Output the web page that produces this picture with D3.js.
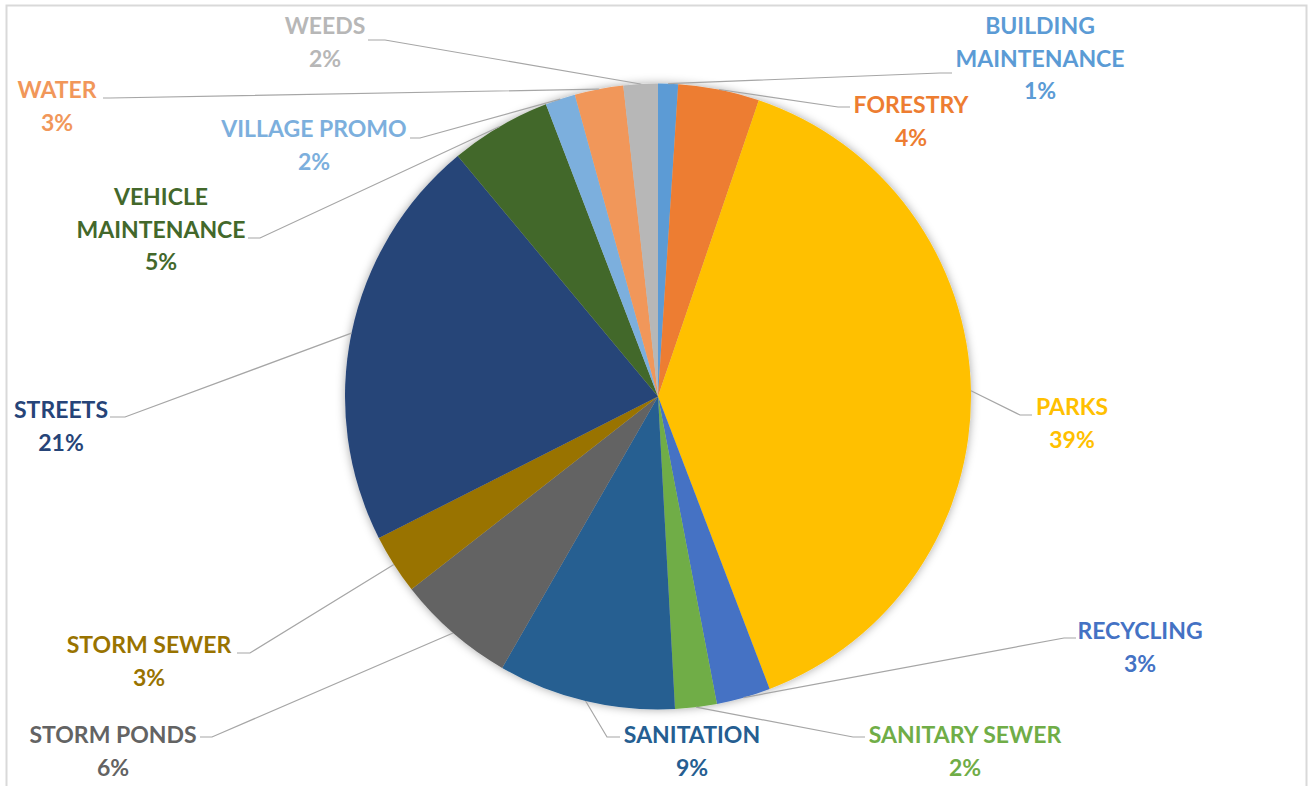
<!DOCTYPE html>
<html>
<head>
<meta charset="utf-8">
<script src="https://cdn.jsdelivr.net/npm/d3@7"></script>
<style>
  html, body { margin: 0; padding: 0; background: #fff; }
  svg { display: block; }
  .lbl { font-family: Lato, "Open Sans", sans-serif; font-weight: 700; font-size: 23px; }
</style>
</head>
<body>
<svg id="chart" width="1310" height="786"></svg>
<script>
// slices, clockwise from 12 o'clock
var categories = ['BUILDING MAINTENANCE', 'FORESTRY', 'PARKS', 'RECYCLING', 'SANITARY SEWER',
  'SANITATION', 'STORM PONDS', 'STORM SEWER', 'STREETS', 'VEHICLE MAINTENANCE',
  'VILLAGE PROMO', 'WATER', 'WEEDS']
var shares = [1.03, 4.19, 38.98, 2.79, 2.15, 9.16, 6.14, 3.10, 21.42, 5.22, 1.55, 2.51, 1.77]
var colors = ['#5B9BD5', '#ED7D31', '#FFC000', '#4472C4', '#70AD47', '#255E91', '#636363',
  '#997300', '#264478', '#43682B', '#7CAFDD', '#F1975A', '#B7B7B7']

// label placement (text centre, first baseline, leader start and elbow)
var labelLayout = [
  { x: 1040, y: 34, wrap: true, ax: 952, ay: 73, ex: 940 },
  { x: 911, y: 113, ax: 850, ay: 107, ex: 838 },
  { x: 1072, y: 415, ax: 1032, ay: 415, ex: 1020 },
  { x: 1140, y: 639, ax: 1076, ay: 638, ex: 1064 },
  { x: 965, y: 743, ax: 865, ay: 737, ex: 853 },
  { x: 692, y: 743, ax: 620, ay: 737, ex: 607 },
  { x: 113, y: 743, ax: 200, ay: 737, ex: 212 },
  { x: 149, y: 653, ax: 237, ay: 653, ex: 250 },
  { x: 61, y: 418, ax: 110, ay: 417, ex: 125 },
  { x: 161, y: 205, wrap: true, ax: 248, ay: 238, ex: 260 },
  { x: 314, y: 137, ax: 410, ay: 138, ex: 420 },
  { x: 57, y: 98, ax: 103, ay: 98, ex: 110 },
  { x: 325, y: 34, ax: 368, ay: 40, ex: 385 }
]

var width = 1310
var height = 786
var cx = 658
var cy = 396.5
var radius = 313
var lineGap = 32.5

var svg = d3.select('#chart')

// chart area border
svg.append('rect')
  .attr('x', 6.5).attr('y', 5.5)
  .attr('width', 1300).attr('height', 820)
  .attr('fill', 'none')
  .attr('stroke', '#d9d9d9')
  .attr('stroke-width', 2)

var defs = svg.append('defs')
var shadow = defs.append('filter').attr('id', 'shadow')
  .attr('x', '-10%').attr('y', '-10%').attr('width', '120%').attr('height', '120%')
shadow.append('feDropShadow')
  .attr('dx', 0).attr('dy', 0)
  .attr('stdDeviation', 5)
  .attr('flood-color', '#000')
  .attr('flood-opacity', 0.35)

var total = d3.sum(shares)
var rows = categories.map(function (c, i) {
  return { name: c, value: shares[i], color: colors[i], layout: labelLayout[i] }
})

var pie = d3.pie().sort(null).value(function (d) { return d.value })
var arcs = pie(rows)
var arc = d3.arc().innerRadius(0).outerRadius(radius)

var g = svg.append('g').attr('transform', 'translate(' + cx + ',' + cy + ')')

g.append('g')
  .attr('filter', 'url(#shadow)')
  .selectAll('path')
  .data(arcs)
  .join('path')
  .attr('d', arc)
  .attr('fill', function (d) { return d.data.color })

// leader lines
function edgePoint(d) {
  var a = (d.startAngle + d.endAngle) / 2
  return [cx + radius * Math.sin(a), cy - radius * Math.cos(a)]
}

svg.append('g')
  .selectAll('polyline')
  .data(arcs)
  .join('polyline')
  .attr('fill', 'none')
  .attr('stroke', '#a6a6a6')
  .attr('stroke-width', 1.2)
  .attr('points', function (d) {
    var L = d.data.layout
    var p = edgePoint(d)
    return [[L.ax, L.ay], [L.ex, L.ay], p].map(function (q) { return q.join(',') }).join(' ')
  })

// labels
var labels = svg.append('g')
  .selectAll('text')
  .data(arcs)
  .join('text')
  .attr('class', 'lbl')
  .attr('text-anchor', 'middle')
  .attr('fill', function (d) { return d.data.color })

labels.each(function (d) {
  var L = d.data.layout
  var lines = L.wrap ? [d.data.name.slice(0, d.data.name.indexOf(' ')), d.data.name.slice(d.data.name.indexOf(' ') + 1)] : [d.data.name]
  lines.push(Math.round(d.data.value / total * 100) + '%')
  var t = d3.select(this)
  lines.forEach(function (s, i) {
    t.append('tspan')
      .attr('x', L.x)
      .attr('y', L.y + i * lineGap)
      .text(s)
  })
})
</script>
</body>
</html>
